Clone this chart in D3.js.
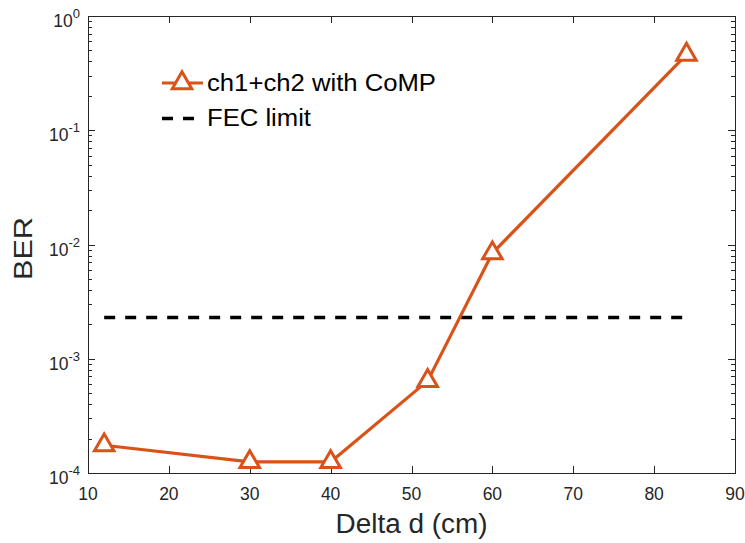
<!DOCTYPE html>
<html>
<head>
<meta charset="utf-8">
<script src="https://cdn.jsdelivr.net/npm/d3@7"></script>
<style>
  html, body { margin: 0; padding: 0; background: #fff; }
  svg { display: block; font-family: "Liberation Sans", Arial, Helvetica, sans-serif; }
</style>
</head>
<body>
<svg id="chart" width="745" height="543"></svg>
<script>
// Measured BER versus the separation Delta d
const deltaD = [12, 30, 40, 52, 60, 84];
const berComp = [1.75e-4, 1.25e-4, 1.25e-4, 6.4e-4, 8.4e-3, 0.46];
const fecLimit = 2.3e-3;
const fecRange = [12, 84];
const xTicks = [10, 20, 30, 40, 50, 60, 70, 80, 90];
const yDecades = [-4, -3, -2, -1, 0];
const seriesName = "ch1+ch2 with CoMP";
const fecName = "FEC limit";

const W = 745, H = 543;
const m = { left: 88, top: 16, right: 10, bottom: 70 };
const pw = W - m.left - m.right, ph = H - m.top - m.bottom;
const axisColor = "#262626";
const lineColor = "#D95319";

const svg = d3.select("#chart");
const g = svg.append("g").attr("transform", `translate(${m.left},${m.top})`);

const x = d3.scaleLinear().domain([10, 90]).range([0, pw]);
const y = d3.scaleLog().domain([1e-4, 1]).range([ph, 0]);

// minor ticks on the log axis
const minor = [];
yDecades.slice(0, -1).forEach(e => { for (let k = 2; k <= 9; k++) minor.push(k * Math.pow(10, e)); });
const major = yDecades.map(e => Math.pow(10, e));

// axes box
g.append("rect").attr("x", 0.5).attr("y", 0.5).attr("width", pw).attr("height", ph)
  .attr("fill", "none").attr("stroke", axisColor).attr("stroke-width", 1);

// x ticks (bottom and top, pointing inward)
const xt = g.append("g").attr("stroke", axisColor).attr("stroke-width", 1);
xTicks.forEach(v => {
  const px = Math.round(x(v)) + 0.5;
  xt.append("line").attr("x1", px).attr("x2", px).attr("y1", ph).attr("y2", ph - 7);
  xt.append("line").attr("x1", px).attr("x2", px).attr("y1", 0).attr("y2", 7);
});
g.append("g").selectAll("text").data(xTicks).join("text")
  .attr("x", d => x(d)).attr("y", ph + 27)
  .attr("text-anchor", "middle").attr("font-size", 17.5).attr("fill", axisColor)
  .text(d => d);

// y ticks (left and right)
const yt = g.append("g").attr("stroke", axisColor).attr("stroke-width", 1);
major.forEach(v => {
  const py = Math.round(y(v)) + 0.5;
  yt.append("line").attr("x1", 0).attr("x2", 7).attr("y1", py).attr("y2", py);
  yt.append("line").attr("x1", pw).attr("x2", pw - 7).attr("y1", py).attr("y2", py);
});
minor.forEach(v => {
  const py = Math.round(y(v)) + 0.5;
  yt.append("line").attr("x1", 0).attr("x2", 4).attr("y1", py).attr("y2", py);
  yt.append("line").attr("x1", pw).attr("x2", pw - 4).attr("y1", py).attr("y2", py);
});
const yl = g.append("g").attr("fill", axisColor);
yDecades.forEach(e => {
  const t = yl.append("text").attr("x", -8).attr("y", y(Math.pow(10, e)) + 11)
    .attr("text-anchor", "end").attr("font-size", 17.5);
  t.append("tspan").text("10");
  t.append("tspan").attr("font-size", 13).attr("dy", -9).text(e === 0 ? "0" : "-" + (-e));
});

// axis titles
svg.append("text").attr("x", m.left + pw / 2).attr("y", 533)
  .attr("text-anchor", "middle").attr("font-size", 27).attr("fill", axisColor)
  .attr("textLength", 152).attr("lengthAdjust", "spacingAndGlyphs")
  .text("Delta d (cm)");
svg.append("text").attr("transform", `translate(32,${m.top + ph / 2 + 4}) rotate(-90)`)
  .attr("text-anchor", "middle").attr("font-size", 25).attr("fill", axisColor)
  .attr("textLength", 63).attr("lengthAdjust", "spacingAndGlyphs")
  .text("BER");

// FEC threshold
g.append("line")
  .attr("x1", x(fecRange[0])).attr("x2", x(fecRange[1]))
  .attr("y1", y(fecLimit)).attr("y2", y(fecLimit))
  .attr("stroke", "#000").attr("stroke-width", 3.5).attr("stroke-dasharray", "11,10");

// measured curve
const line = d3.line().x((d, i) => x(deltaD[i])).y(d => y(d));
g.append("path").datum(berComp).attr("d", line)
  .attr("fill", "none").attr("stroke", lineColor).attr("stroke-width", 3.2)
  .attr("stroke-linejoin", "round");

const tri = d3.symbol().type(d3.symbolTriangle).size(165);
g.append("g").selectAll("path").data(berComp).join("path")
  .attr("transform", (d, i) => `translate(${x(deltaD[i])},${y(d)})`)
  .attr("d", tri)
  .attr("fill", "#fff").attr("stroke", lineColor).attr("stroke-width", 3);

// legend
const lg = svg.append("g");
lg.append("line").attr("x1", 162).attr("x2", 203).attr("y1", 83).attr("y2", 83)
  .attr("stroke", lineColor).attr("stroke-width", 3.2);
lg.append("path").attr("transform", "translate(182,83)").attr("d", tri)
  .attr("fill", "#fff").attr("stroke", lineColor).attr("stroke-width", 3);
lg.append("text").attr("x", 207).attr("y", 91).attr("font-size", 23).attr("fill", "#000")
  .attr("textLength", 229).attr("lengthAdjust", "spacingAndGlyphs")
  .text(seriesName);
lg.append("line").attr("x1", 162).attr("x2", 203).attr("y1", 118.5).attr("y2", 118.5)
  .attr("stroke", "#000").attr("stroke-width", 3.5).attr("stroke-dasharray", "11,10");
lg.append("text").attr("x", 207).attr("y", 126).attr("font-size", 23).attr("fill", "#000")
  .attr("textLength", 104).attr("lengthAdjust", "spacingAndGlyphs")
  .text(fecName);
</script>
</body>
</html>
